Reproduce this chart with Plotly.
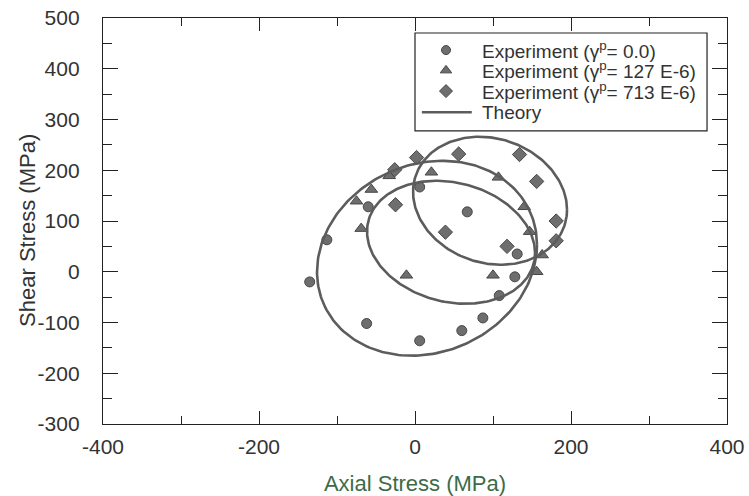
import numpy as np
import plotly.graph_objects as go

# Experimental yield points (MPa): axial stress, shear stress
circ_axial = [-135, -113, -60, 6, 67, -62, 6, 60, 87, 108, 128, 131]
circ_shear = [-20, 63, 128, 167, 118, -102, -136, -116, -91, -47, -10, 35]

tri_axial = [-75, -56, -33, 21, -69, -11, 107, 140, 147, 163, 156, 100]
tri_shear = [139, 162, 189, 196, 85, -7, 186, 128, 79, 33, 0, -7]

dia_axial = [2, 56, 134, 156, -26, -25, 39, 118, 181, 181]
dia_shear = [225, 232, 231, 178, 201, 132, 78, 50, 100, 61]

# Theoretical yield surfaces: centre, half extents and skew angle (deg)
surf_cx = [15.4, 46.2, 96.2]
surf_cy = [26.6, 58.1, 139.9]
surf_rx = [141.0, 107.7, 98.7]
surf_ry = [192.0, 121.2, 126.1]
surf_skew = [8, -10, -8]

x_ticks = [-400, -200, 0, 200, 400]
y_ticks = [-300, -200, -100, 0, 100, 200, 300, 400, 500]

legend_names = [
    "Experiment (γ<sup>p</sup>= 0.0)",
    "Experiment (γ<sup>p</sup>= 127 E-6)",
    "Experiment (γ<sup>p</sup>= 713 E-6)",
    "Theory",
]
legend_symbols = ["circle", "triangle-up", "diamond"]

GREY = "#5c5c5c"
MARK = "#6e6e6e"
EDGE = "#474747"
TEXT = "#333333"
AXIS = "#222222"
FONT = "Liberation Sans, Arial, sans-serif"

t = np.linspace(0, 2 * np.pi, 241)
theory_x, theory_y = [], []
for cx, cy, rx, ry, sk in zip(surf_cx, surf_cy, surf_rx, surf_ry, surf_skew):
    d = np.radians(sk)
    theory_x += list(cx + rx * np.cos(t)) + [None]
    theory_y += list(cy + ry * np.sin(t + d)) + [None]

fig = go.Figure()

marker_common = dict(color=MARK, line=dict(color=EDGE, width=1))
sizes = [10, 11, 11]
for xs, ys, sym, sz in zip([circ_axial, tri_axial, dia_axial],
                           [circ_shear, tri_shear, dia_shear],
                           legend_symbols, sizes):
    fig.add_trace(go.Scatter(x=xs, y=ys, mode="markers", showlegend=False,
                             marker=dict(symbol=sym, size=sz, **marker_common)))
fig.add_trace(go.Scatter(x=theory_x, y=theory_y, mode="lines", showlegend=False,
                         line=dict(color=GREY, width=2.6), connectgaps=False))

# Legend drawn on an overlay axis that spans the plot area in 0..1 units
leg_x0, leg_x1, leg_y0, leg_y1 = 0.500, 0.968, 0.722, 0.963
row_y = [0.921, 0.871, 0.820, 0.768]
sym_x = 0.5497
line_x = [0.511, 0.591]
text_x = 0.604

for sym, sz, ry in zip(legend_symbols, sizes, row_y[:3]):
    fig.add_trace(go.Scatter(x=[sym_x], y=[ry], xaxis="x2", yaxis="y2", mode="markers",
                             showlegend=False, hoverinfo="skip",
                             marker=dict(symbol=sym, size=sz - 1, **marker_common)))
fig.add_trace(go.Scatter(x=line_x, y=[row_y[3]] * 2, xaxis="x2", yaxis="y2", mode="lines",
                         showlegend=False, hoverinfo="skip",
                         line=dict(color=GREY, width=2.6)))

fig.add_shape(type="rect", xref="paper", yref="paper", x0=leg_x0, x1=leg_x1,
              y0=leg_y0, y1=leg_y1, line=dict(color=AXIS, width=1.2), fillcolor="rgba(0,0,0,0)")
for name, ry in zip(legend_names, row_y):
    fig.add_annotation(x=text_x, y=ry, xref="paper", yref="paper", text=name,
                       showarrow=False, xanchor="left", yanchor="middle",
                       font=dict(family=FONT, size=19, color=TEXT))

# Vertical axis title
fig.add_annotation(x=-0.1202, y=0.478, xref="paper", yref="paper",
                   text="Shear Stress (MPa)", textangle=-90, showarrow=False,
                   xanchor="center", yanchor="middle",
                   font=dict(family=FONT, size=22, color=TEXT))

axis_common = dict(
    showgrid=False, zeroline=False, showline=True, linecolor=AXIS, linewidth=1.3,
    mirror="allticks", ticks="inside", tickcolor=AXIS, tickwidth=1.3,
    tickfont=dict(family=FONT, size=21, color=TEXT), automargin=False,
)

fig.update_xaxes(
    range=[-400, 400], tickvals=x_ticks, ticktext=[str(v) for v in x_ticks], ticklen=13,
    minor=dict(dtick=100, tick0=0, ticks="inside", ticklen=8, tickcolor=AXIS, tickwidth=1.3),
    title=dict(text="Axial Stress (MPa)", font=dict(family=FONT, size=22, color="#3d6b47"), standoff=20),
    ticklabelstandoff=4,
    **axis_common,
)
fig.update_yaxes(
    range=[-300, 500], tickvals=y_ticks, ticktext=[str(v) for v in y_ticks], ticklen=15,
    minor=dict(dtick=50, tick0=0, ticks="inside", ticklen=9, tickcolor=AXIS, tickwidth=1.3),
    ticklabelstandoff=18,
    **axis_common,
)

fig.update_layout(
    width=749, height=496,
    margin=dict(l=103, r=22, t=18, b=72),
    paper_bgcolor="white", plot_bgcolor="white",
    showlegend=False,
    xaxis2=dict(overlaying="x", range=[0, 1], visible=False, fixedrange=True),
    yaxis2=dict(overlaying="y", range=[0, 1], visible=False, fixedrange=True),
)

fig.write_html("out.html")
